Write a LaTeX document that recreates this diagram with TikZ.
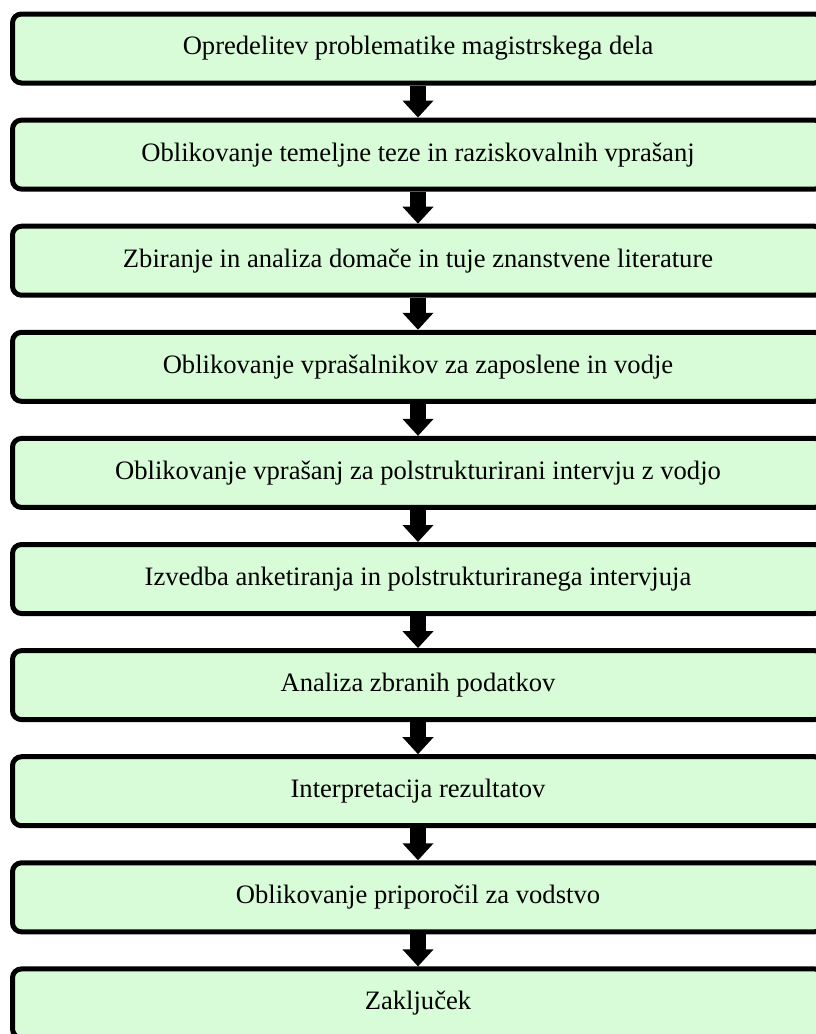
\documentclass[tikz,border=0pt]{standalone}
\usepackage{fontspec}
\setmainfont{Liberation Serif}
\usetikzlibrary{arrows.meta}
\definecolor{stepgreen}{RGB}{216,252,216}
\tikzset{
  stepbox/.style={draw=black,fill=stepgreen,line width=5pt,rounded corners=9pt,
    minimum width=811pt,minimum height=69pt,inner sep=0pt,
    font=\fontsize{26.6}{30}\selectfont},
  flowarrow/.style={line width=16pt,-{Triangle[width=30pt,length=17pt]}}
}
\begin{document}
\begin{tikzpicture}[x=1pt,y=-1pt]
\useasboundingbox (0,0) rectangle (816,1034);
\clip (0,0) rectangle (816,1034);
% process steps
\foreach \txt [count=\i] in {
  Opredelitev problematike magistrskega dela,
  Oblikovanje temeljne teze in raziskovalnih vprašanj,
  Zbiranje in analiza domače in tuje znanstvene literature,
  Oblikovanje vprašalnikov za zaposlene in vodje,
  Oblikovanje vprašanj za polstrukturirani intervju z vodjo,
  Izvedba anketiranja in polstrukturiranega intervjuja,
  Analiza zbranih podatkov,
  Interpretacija rezultatov,
  Oblikovanje priporočil za vodstvo,
  Zaključek}
  \node[stepbox] (s\i) at (418,{48.5+(\i-1)*106.1}) {\raisebox{-3pt}{\txt}};
% arrows between steps
\foreach \i [evaluate=\i as \j using int(\i+1)] in {1,...,9}
  \draw[flowarrow] (s\i.south) -- (s\j.north);
\end{tikzpicture}
\end{document}
